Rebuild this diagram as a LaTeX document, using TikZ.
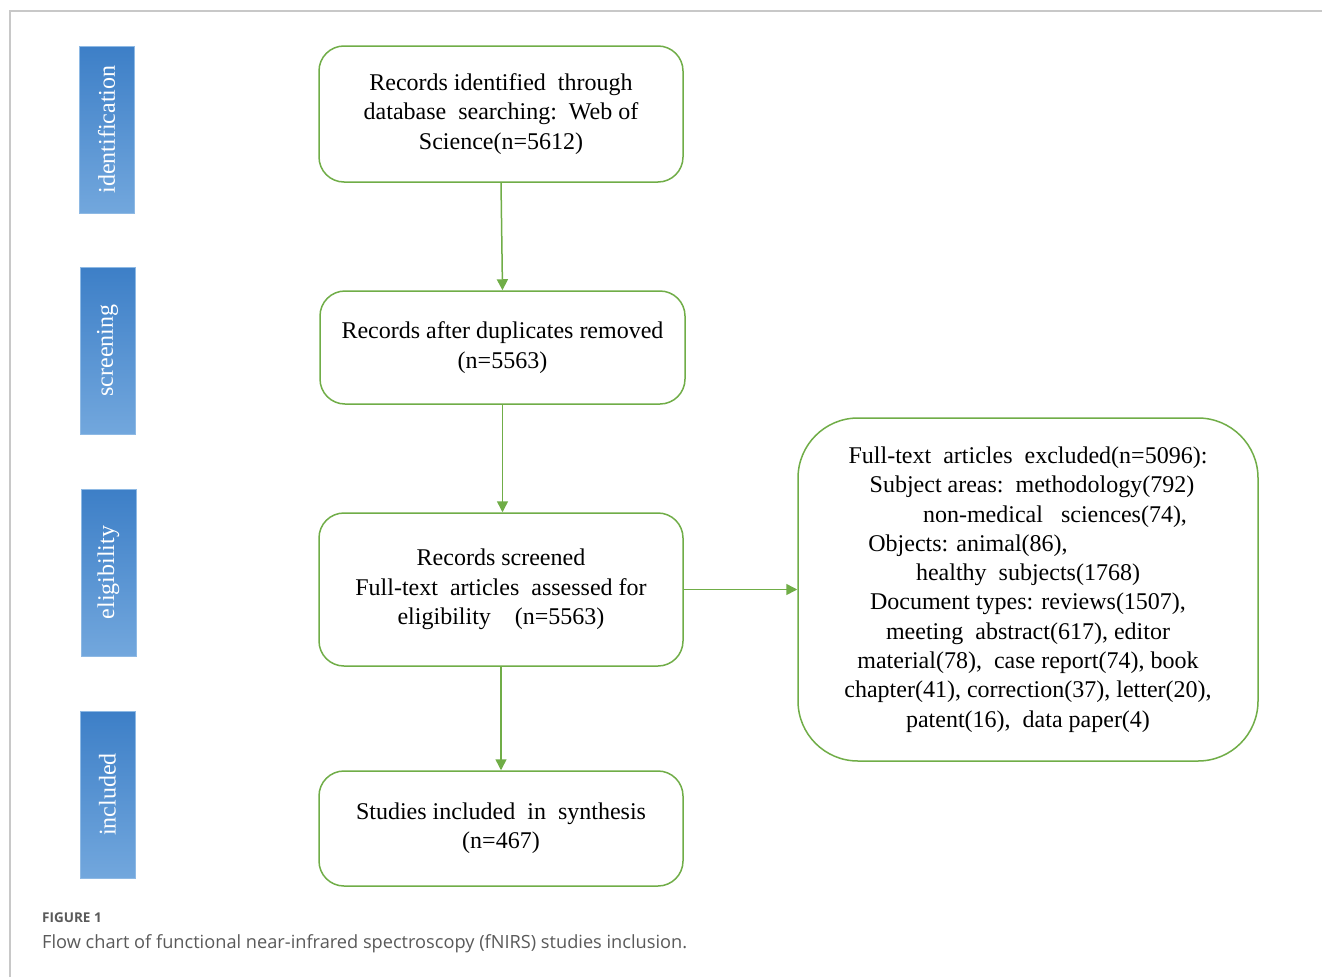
\documentclass[tikz,border=0pt]{standalone}
\usepackage{fontspec}
\setmainfont{Liberation Serif}
\newfontfamily\capfont{Open Sans}
\usetikzlibrary{arrows.meta}
\definecolor{pgreen}{HTML}{70AD47}
\definecolor{btop}{HTML}{3D7FC7}
\definecolor{bbot}{HTML}{72A7DD}
\definecolor{framegray}{HTML}{C8C8C8}
\definecolor{capgray}{HTML}{5A5A5A}
\tikzset{
  stage/.style={draw=bbot!80!white, line width=0.6pt, top color=btop, bottom color=bbot,
    minimum width=55pt, minimum height=167pt, inner sep=0pt},
  stagetxt/.style={text=white, rotate=90, font=\fontsize{24}{28}\selectfont},
  flowbox/.style={draw=pgreen, line width=1.5pt, rounded corners=25pt, fill=white,
    minimum width=364pt, align=center, inner sep=0pt,
    font=\fontsize{24}{29.3}\selectfont},
  bigbox/.style={draw=pgreen, line width=1.5pt, rounded corners=60pt, fill=white,
    minimum width=460pt, minimum height=343pt, align=center, inner sep=0pt,
    font=\fontsize{24}{29.3}\selectfont},
  flowarrow/.style={draw=pgreen, line width=1.5pt, -{Triangle[length=11pt,width=11pt]}},
}
\begin{document}
\begin{tikzpicture}[x=1pt,y=-1pt]
\useasboundingbox (0,0) rectangle (1322,977);
\fill[white] (0,0) rectangle (1322,977);
\draw[framegray, line width=1.2pt] (10,977) -- (10,11) -- (1322,11);

% stage labels
\node[stage] (sid) at (106.5,129.5) {};
\node[stagetxt] (tid) at (sid.center) {identification};
\node[stage] (ssc) at (107.5,350.5) {};
\node[stagetxt] (tsc) at (ssc.center) {screening};
\node[stage] (sel) at (108.5,572.5) {};
\node[stagetxt] (tel) at (sel.center) {eligibility};
\node[stage] (sin) at (107.5,794.5) {};
\node[stagetxt] (tin) at (sin.center) {included};

% flow boxes
\node[flowbox, minimum height=136pt] (b1) at (501,114)
  {Records identified\ \ through\\database\ \ searching:\ \ Web of\\Science(n=5612)};
\node[flowbox, minimum height=113pt, minimum width=365pt] (b2) at (502.5,347.5)
  {Records after duplicates removed\\(n=5563)};
\node[flowbox, minimum height=153pt] (b3) at (501,589.5)
  {Records screened\\Full-text\ \ articles\ \ assessed for\\eligibility\ \ \ \ (n=5563)};
\node[flowbox, minimum height=115pt] (b4) at (501,828.5)
  {Studies included\ \ in\ \ synthesis\\(n=467)};
\node[bigbox] (bx) at (1028,589.5)
  {Full-text\ \ articles\ \ excluded(n=5096):\\
   \hspace*{8pt}Subject areas:\ \ methodology(792)\\
   \hspace*{54pt}non-medical\ \ \ sciences(74),\\
   Objects: animal(86),\hspace{120pt}\mbox{}\\
   healthy\ \ subjects(1768)\\
   Document types: reviews(1507),\\
   meeting\ \ abstract(617), editor\\
   material(78),\ \ case report(74), book\\
   chapter(41), correction(37), letter(20),\\
   patent(16),\ \ data paper(4)};

% connectors
\draw[flowarrow] (b1.south) -- (b2.north);
\draw[flowarrow] (b2.south) -- (b2.south |- b3.north);
\draw[flowarrow] (b3.south) -- (b4.north);
\draw[flowarrow] (b3.east) -- (bx.west);

% caption
\node[anchor=base west, inner sep=0pt, text=capgray, font=\capfont\bfseries\fontsize{13.5}{16}\selectfont] (fig) at (42,922) {FIGURE 1};
\node[anchor=base west, inner sep=0pt, text=capgray, font=\capfont\fontsize{18.2}{22}\selectfont] (cap) at (42,948) {Flow chart of functional near-infrared spectroscopy (fNIRS) studies inclusion.};
\end{tikzpicture}
\end{document}
